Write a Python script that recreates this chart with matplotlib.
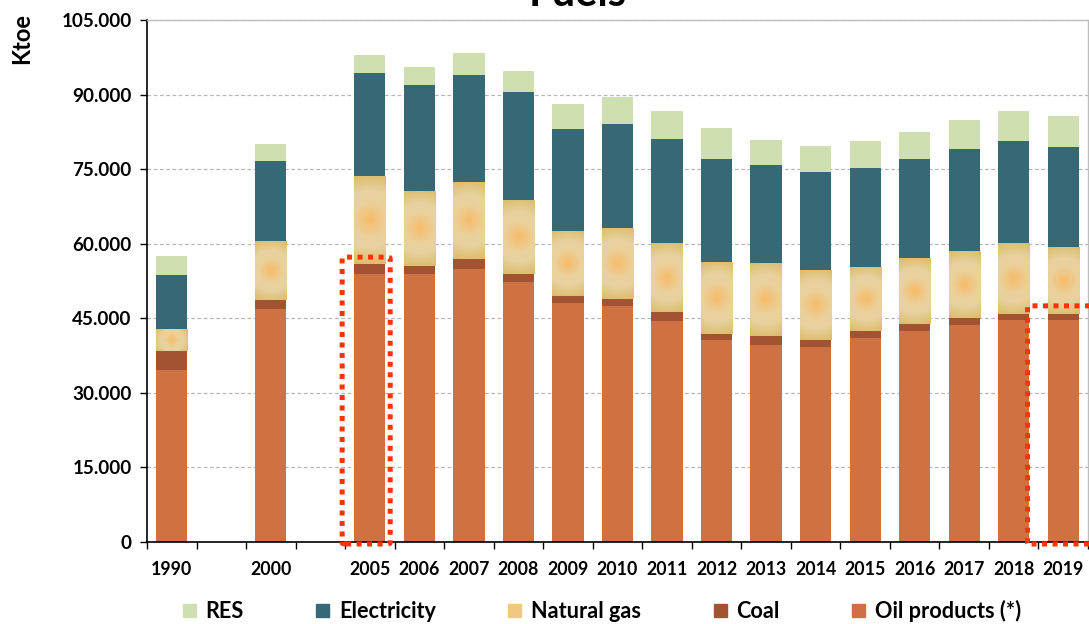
import matplotlib.pyplot as plt
import numpy as np
from matplotlib.colors import LinearSegmentedColormap
from matplotlib.patches import Patch, FancyBboxPatch
from matplotlib.ticker import FuncFormatter, MultipleLocator

plt.rcParams['font.family'] = ['Lato', 'DejaVu Sans']

# Data (ktoe)
slots = ['1990', '', '2000', '', '2005', '2006', '2007', '2008', '2009', '2010',
         '2011', '2012', '2013', '2014', '2015', '2016', '2017', '2018', '2019']
years = ['1990', '2000', '2005', '2006', '2007', '2008', '2009', '2010', '2011',
         '2012', '2013', '2014', '2015', '2016', '2017', '2018', '2019']
oil = [34600, 46900, 53900, 53900, 54900, 52200, 48100, 47500, 44500,
       40700, 39600, 39300, 41100, 42500, 43700, 44700, 44700]
coal = [3800, 1800, 2000, 1600, 2000, 1700, 1400, 1400, 1800,
        1100, 1800, 1300, 1300, 1400, 1400, 1200, 1200]
gas = [4400, 11800, 17800, 15100, 15500, 14900, 13100, 14300, 13800,
       14500, 14700, 14200, 12900, 13200, 13400, 14200, 13400]
elec = [10900, 16100, 20600, 21300, 21500, 21700, 20400, 20900, 21000,
        20700, 19700, 19700, 19900, 19900, 20500, 20500, 20200]
res = [3800, 3500, 3700, 3700, 4500, 4300, 5100, 5400, 5600,
       6300, 5100, 5200, 5500, 5500, 5900, 6100, 6200]
highlighted = ['2005', '2019']

c_oil, c_coal, c_gas = '#cf7141', '#a35331', '#ecca84'
c_elec, c_res = '#376875', '#d0dfb1'

fig = plt.figure(figsize=(10.89, 6.24), dpi=100)
ax = fig.add_axes([147 / 1089, 82 / 624, 941 / 1089, 522 / 624])

x = np.array([slots.index(y) for y in years])
w = 0.63
b1 = np.array(oil)
b2 = b1 + np.array(coal)
b3 = b2 + np.array(gas)
b4 = b3 + np.array(elec)

ax.bar(x, oil, w, color=c_oil, zorder=2)
ax.bar(x, coal, w, bottom=b1, color=c_coal, zorder=2)
gas_bars = ax.bar(x, gas, w, bottom=b2, color=c_gas, zorder=2)
ax.bar(x, elec, w, bottom=b3, color=c_elec, zorder=2)
ax.bar(x, res, w, bottom=b4, color=c_res, zorder=2)

ax.set_xlim(-0.5, len(slots) - 0.5)
ax.set_ylim(0, 105000)

# radial glow on the natural gas segments
gas_cmap = LinearSegmentedColormap.from_list(
    'gas', [(0, '#f6bc68'), (0.12, '#f3c27a'), (0.38, '#ead19c'),
            (0.6, '#e7d2a0'), (1, '#dcbc68')])
for p in gas_bars:
    x0, y0, pw, ph = p.get_x(), p.get_y(), p.get_width(), p.get_height()
    (px0, py0), (px1, py1) = ax.transData.transform([(x0, y0), (x0 + pw, y0 + ph)])
    wpx, hpx = px1 - px0, py1 - py0
    xx, yy = np.meshgrid(np.linspace(-0.5, 0.5, 60), np.linspace(-0.5, 0.5, 120))
    r = np.hypot(xx * wpx, yy * hpx) / (0.5 * np.hypot(wpx, hpx))
    im = ax.imshow(r, extent=(x0, x0 + pw, y0, y0 + ph), aspect='auto',
                   cmap=gas_cmap, vmin=0, vmax=1, interpolation='bilinear',
                   origin='lower', zorder=2.1)
    im.set_clip_path(p)

ax.set_xlim(-0.5, len(slots) - 0.5)
ax.set_ylim(0, 105000)

# dotted red highlight boxes
box_offsets = {'2005': (-0.56, 0.41, 57300), '2019': (-0.72, 0.75, 47500)}
for yr in highlighted:
    i = slots.index(yr)
    left, right, top = box_offsets[yr]
    box = FancyBboxPatch((i + left, -400), right - left, top + 400,
                         boxstyle='round,pad=0,rounding_size=0.08',
                         mutation_aspect=3000, fill=False, edgecolor='#ff3300',
                         linewidth=3.6, linestyle=(0, (1, 1.1)),
                         clip_on=False, zorder=5)
    ax.add_patch(box)

# axes styling
ax.yaxis.set_major_locator(MultipleLocator(15000))
ax.yaxis.set_major_formatter(FuncFormatter(lambda v, _: f'{int(v):,}'.replace(',', '.')))
ax.grid(axis='y', color='#b8b8b8', linestyle=(0, (3, 2)), linewidth=0.9, zorder=0)
ax.set_axisbelow(True)
for s in ['left', 'bottom']:
    ax.spines[s].set_color('black')
    ax.spines[s].set_linewidth(1.2)
for s in ['top', 'right']:
    ax.spines[s].set_color('#bdbdbd')
    ax.spines[s].set_linewidth(1.0)

ax.set_xticks(np.arange(len(slots)))
ax.set_xticklabels(slots)
ax.set_xticks(np.arange(-0.5, len(slots)), minor=True)
ax.tick_params(axis='x', which='major', length=0, pad=14)
ax.tick_params(axis='x', which='minor', length=5, width=1, direction='out')
ax.tick_params(axis='y', length=5, width=1, pad=6)
for lab in ax.get_xticklabels():
    lab.set_fontsize(12.8)
    lab.set_fontweight('bold')
for lab in ax.get_yticklabels():
    lab.set_fontsize(13.6)
    lab.set_fontweight('bold')

fig.text(22 / 1089, 1 - 38 / 624, 'Ktoe', rotation=90, ha='center', va='center',
         fontsize=17, fontweight='bold')
fig.text(578 / 1089, 1 - 6 / 624, 'Fuels', ha='center', va='baseline',
         fontsize=30, fontweight='bold')

handles = [Patch(color=c_res), Patch(color=c_elec), Patch(color='#f0c880'),
           Patch(color=c_coal), Patch(color=c_oil)]
labels = ['RES', 'Electricity', 'Natural gas', 'Coal', 'Oil products (*)']
fig.legend(handles, labels, loc='center', bbox_to_anchor=(602 / 1089, 1 - 611 / 624),
           ncol=5, frameon=False, handlelength=0.6, handleheight=0.6,
           handletextpad=0.45, columnspacing=3.35,
           prop={'weight': 'bold', 'size': 15.6})

fig.savefig('out.png', dpi=100)
